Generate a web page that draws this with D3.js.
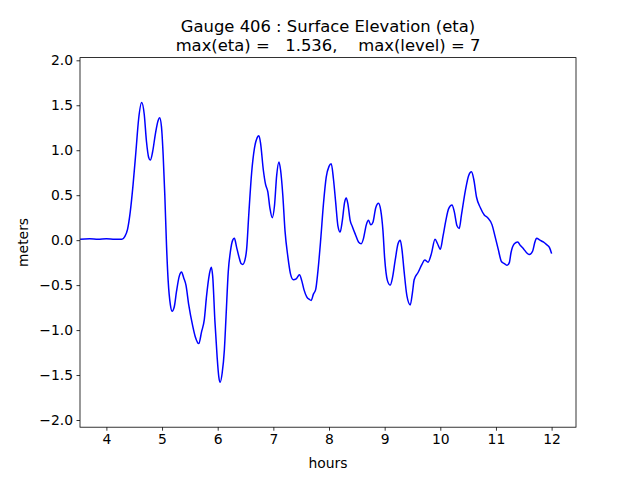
<!DOCTYPE html>
<html><head><meta charset="utf-8">
<script src="https://cdn.jsdelivr.net/npm/d3@7"></script>
<style>
html,body{margin:0;padding:0;background:#fff;}
text{font-family:"DejaVu Sans",sans-serif;fill:#000;}
</style></head>
<body>
<svg id="chart" width="640" height="480"></svg>
<script>
const hours = [3.53,3.70,3.85,4.00,4.15,4.28,4.33,4.38,4.43,4.48,4.53,4.58,4.634,4.68,4.72,4.76,4.79,4.83,4.88,4.93,4.957,4.99,5.02,5.05,5.08,5.11,5.15,5.18,5.22,5.26,5.31,5.35,5.39,5.43,5.48,5.55,5.60,5.66,5.71,5.76,5.80,5.85,5.885,5.91,5.95,5.99,6.02,6.045,6.08,6.12,6.15,6.19,6.23,6.27,6.30,6.34,6.38,6.42,6.45,6.49,6.52,6.56,6.61,6.66,6.71,6.74,6.77,6.82,6.86,6.90,6.94,6.98,7.02,7.06,7.10,7.13,7.17,7.21,7.26,7.31,7.36,7.41,7.47,7.51,7.55,7.60,7.65,7.68,7.72,7.76,7.80,7.85,7.90,7.95,8.00,8.04,8.08,8.12,8.16,8.20,8.24,8.28,8.31,8.34,8.38,8.42,8.47,8.53,8.58,8.62,8.67,8.71,8.75,8.79,8.84,8.89,8.93,8.97,9.00,9.05,9.10,9.14,9.19,9.24,9.28,9.31,9.35,9.40,9.46,9.50,9.53,9.60,9.67,9.72,9.78,9.84,9.905,9.95,10.00,10.05,10.10,10.15,10.21,10.25,10.30,10.34,10.38,10.45,10.51,10.56,10.60,10.65,10.72,10.79,10.85,10.93,10.98,11.04,11.10,11.15,11.20,11.24,11.27,11.33,11.39,11.44,11.50,11.55,11.60,11.66,11.70,11.73,11.79,11.85,11.91,11.96,12.00];
const eta = [0.01,0.015,0.01,0.015,0.01,0.01,0.04,0.12,0.32,0.62,0.98,1.35,1.53,1.40,1.10,0.92,0.89,0.98,1.18,1.33,1.36,1.26,0.95,0.50,-0.05,-0.45,-0.72,-0.79,-0.74,-0.57,-0.40,-0.355,-0.42,-0.50,-0.72,-0.95,-1.08,-1.15,-1.02,-0.88,-0.62,-0.38,-0.30,-0.40,-0.90,-1.30,-1.52,-1.58,-1.48,-1.22,-0.85,-0.35,-0.12,0.0,0.02,-0.08,-0.18,-0.26,-0.27,-0.22,-0.10,0.30,0.75,1.02,1.14,1.16,1.08,0.78,0.62,0.54,0.35,0.25,0.38,0.72,0.87,0.78,0.50,0.10,-0.18,-0.38,-0.44,-0.43,-0.385,-0.45,-0.55,-0.63,-0.66,-0.67,-0.60,-0.55,-0.35,0.00,0.40,0.70,0.82,0.85,0.68,0.42,0.16,0.09,0.22,0.42,0.47,0.40,0.22,0.15,0.07,-0.02,-0.04,0.02,0.17,0.22,0.17,0.20,0.36,0.41,0.33,0.10,-0.20,-0.45,-0.50,-0.42,-0.22,-0.04,0.0,-0.10,-0.35,-0.62,-0.72,-0.58,-0.44,-0.36,-0.27,-0.22,-0.245,-0.15,0.01,-0.04,-0.10,0.05,0.22,0.35,0.39,0.32,0.16,0.13,0.28,0.55,0.72,0.76,0.68,0.48,0.36,0.28,0.25,0.17,0.05,-0.10,-0.24,-0.26,-0.28,-0.25,-0.14,-0.04,-0.02,-0.06,-0.10,-0.14,-0.16,-0.12,-0.02,0.02,0.0,-0.02,-0.05,-0.08,-0.15];
const xTicks = [4,5,6,7,8,9,10,11,12];
const yTicks = [-2.0,-1.5,-1.0,-0.5,0.0,0.5,1.0,1.5,2.0];
const titleLines = ["Gauge 406 : Surface Elevation (eta)", "max(eta) =   1.536,    max(level) = 7"];
const xLabel = "hours", yLabel = "meters";

const L=80, R=576, T=57.6, B=427.2;
const svg = d3.select("#chart");
const x = d3.scaleLinear().domain([3.526,12.438]).range([L,R]);
const y = d3.scaleLinear().domain([-2.08,2.03]).range([B,T]);

svg.append("clipPath").attr("id","c").append("rect").attr("x",L).attr("y",T).attr("width",R-L).attr("height",B-T);

const line = d3.line().x(d=>x(d[0])).y(d=>y(d[1])).curve(d3.curveMonotoneX);
svg.append("path").datum(hours.map((h,i)=>[h,eta[i]]))
  .attr("clip-path","url(#c)")
  .attr("d",line).attr("fill","none").attr("stroke","#0000ff").attr("stroke-width",1.5);

const xa = svg.append("g").attr("transform",`translate(0,${B})`)
  .call(d3.axisBottom(x).tickValues(xTicks).tickFormat(d3.format("d")).tickSizeOuter(0).tickSize(3.5).tickPadding(3.5));
const ya = svg.append("g").attr("transform",`translate(${L},0)`)
  .call(d3.axisLeft(y).tickValues(yTicks).tickFormat(d=>d3.format(".1f")(d).replace("-","\u2212")).tickSizeOuter(0).tickSize(3.5).tickPadding(3.5));
[xa,ya].forEach(a=>{a.select(".domain").remove();a.selectAll("line").attr("stroke","#000").attr("stroke-width",0.8);a.selectAll("text").attr("font-size","13.9px").attr("font-family","DejaVu Sans").attr("fill","#000");});

svg.append("rect").attr("x",L).attr("y",T).attr("width",R-L).attr("height",B-T)
  .attr("fill","none").attr("stroke","#000").attr("stroke-width",0.8);

svg.append("text").attr("x",(L+R)/2).attr("y",468).attr("text-anchor","middle").attr("font-size","13.9px").text(xLabel);
svg.append("text").attr("transform",`translate(28,${(T+B)/2}) rotate(-90)`).attr("text-anchor","middle").attr("font-size","13.9px").text(yLabel);
titleLines.forEach((t,i)=>{
  svg.append("text").attr("x",(L+R)/2).attr("y",31.6+i*19.2).attr("text-anchor","middle")
    .attr("font-size","16.4px").style("white-space","pre").attr("xml:space","preserve").text(t);
});
</script>
</body></html>
